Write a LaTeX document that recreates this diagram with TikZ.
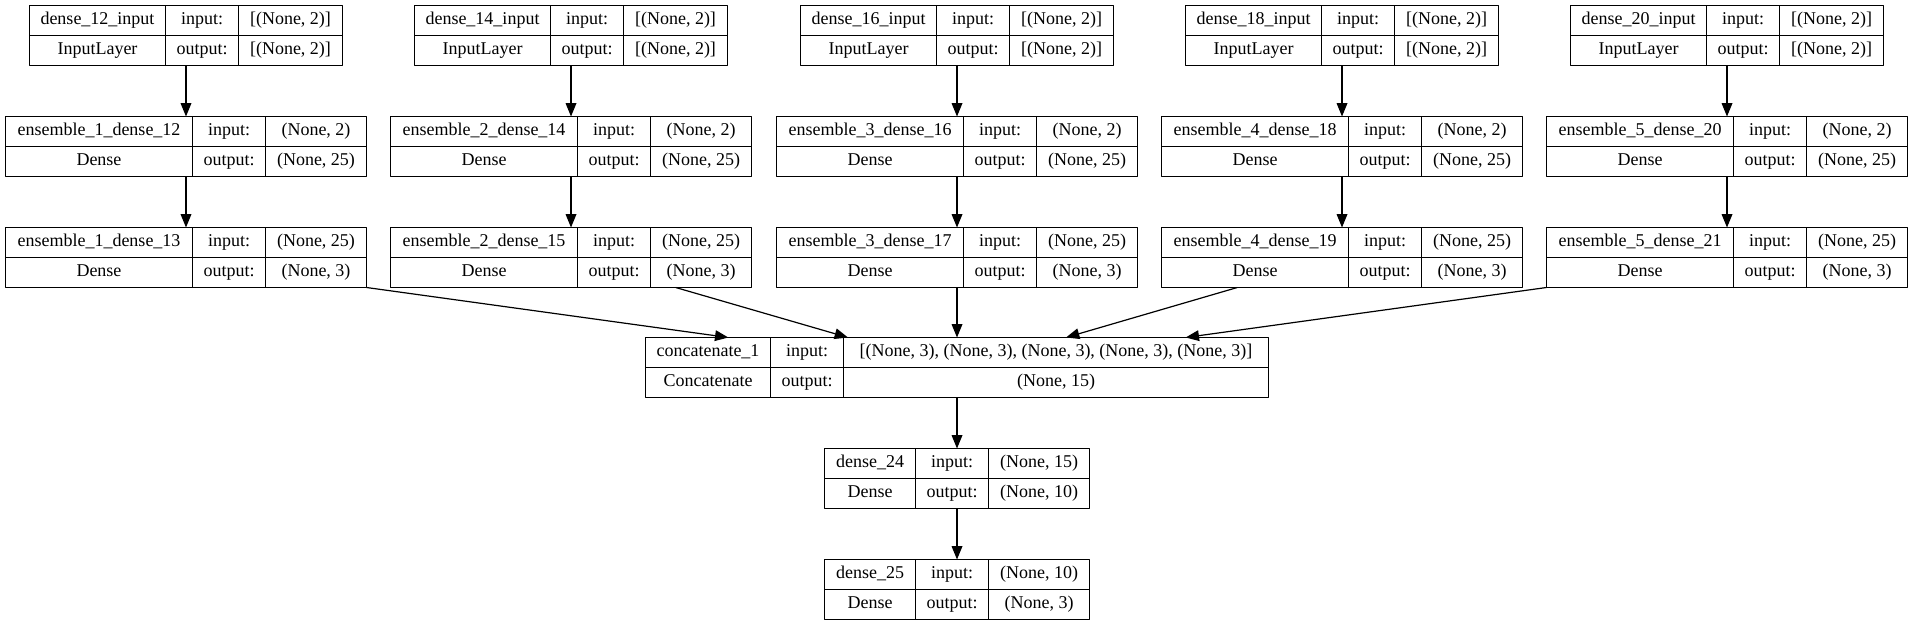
\documentclass[tikz,border=0pt]{standalone}
\usepackage{fontspec}
\setmainfont{Liberation Serif}
\usetikzlibrary{positioning,fit,calc,arrows.meta}

\begin{document}
\begin{tikzpicture}[x=0.75pt, y=-0.75pt, font=\rmfamily\fontsize{13.5}{16}\selectfont, line join=round, >={Triangle[length=10pt,width=8pt]},
    cell/.style={draw, line width=0.9pt, inner sep=0pt, outer sep=0pt, minimum height=30*0.75pt, text height=0.8em, text depth=0.15em},
    arr/.style={->, line width=0.9pt}]
    \def\px{0.75pt}
    % #1 name, #2 centre x, #3 top y, #4 and #9 widths of first and last column
    \def\layer#1#2#3#4#5#6#7#8#9{
        \node[cell, minimum width=#4*\px, anchor=north west] (#1a) at ({#2-(#4+73+#9)/2},#3) {#5};
        \node[cell, minimum width=#4*\px, below=0pt of #1a] (#1b) {#6};
        \node[cell, minimum width=73*\px, right=0pt of #1a] (#1c) {input:};
        \node[cell, minimum width=73*\px, right=0pt of #1b] (#1d) {output:};
        \node[cell, minimum width=#9*\px, right=0pt of #1c] (#1e) {#7};
        \node[cell, minimum width=#9*\px, right=0pt of #1d] (#1f) {#8};
        \node[fit=(#1a)(#1f), inner sep=0pt, outer sep=0pt] (#1) {};}
    \useasboundingbox (0,0) rectangle (1913,627);
    % the five ensemble branches
    \foreach \i/\a/\b/\x in {1/12/13/186, 2/14/15/571, 3/16/17/957, 4/18/19/1342, 5/20/21/1727}{
        \layer{in\i}{\x}{5.5}{136}{dense\_\a\_input}{InputLayer}{[(None, 2)]}{[(None, 2)]}{104}
        \layer{ea\i}{\x}{116.5}{187}{ensemble\_\i\_dense\_\a}{Dense}{(None, 2)}{(None, 25)}{101}
        \layer{eb\i}{\x}{227.5}{187}{ensemble\_\i\_dense\_\b}{Dense}{(None, 25)}{(None, 3)}{101}
        \draw[arr] (in\i.south) -- (ea\i.north);
        \draw[arr] (ea\i.south) -- (eb\i.north);
    }
    % merge and head
    \layer{cat}{957}{337.5}{125}{concatenate\_1}{Concatenate}{[(None, 3), (None, 3), (None, 3), (None, 3), (None, 3)]}{(None, 15)}{425}
    \layer{dd}{957}{448.5}{91}{dense\_24}{Dense}{(None, 15)}{(None, 10)}{101}
    \layer{de}{957}{559.5}{91}{dense\_25}{Dense}{(None, 10)}{(None, 3)}{101}
    \draw[arr] (eb1.south east) -- ($(cat.north west)!0.133!(cat.north east)$);
    \draw[arr] ($(eb2.south west)!0.79!(eb2.south east)$) -- ($(cat.north west)!0.325!(cat.north east)$);
    \draw[arr] (eb3.south) -- (cat.north);
    \draw[arr] ($(eb4.south west)!0.21!(eb4.south east)$) -- ($(cat.north west)!0.675!(cat.north east)$);
    \draw[arr] (eb5.south west) -- ($(cat.north west)!0.867!(cat.north east)$);
    \draw[arr] (cat.south) -- (dd.north);
    \draw[arr] (dd.south) -- (de.north);
\end{tikzpicture}
\end{document}
